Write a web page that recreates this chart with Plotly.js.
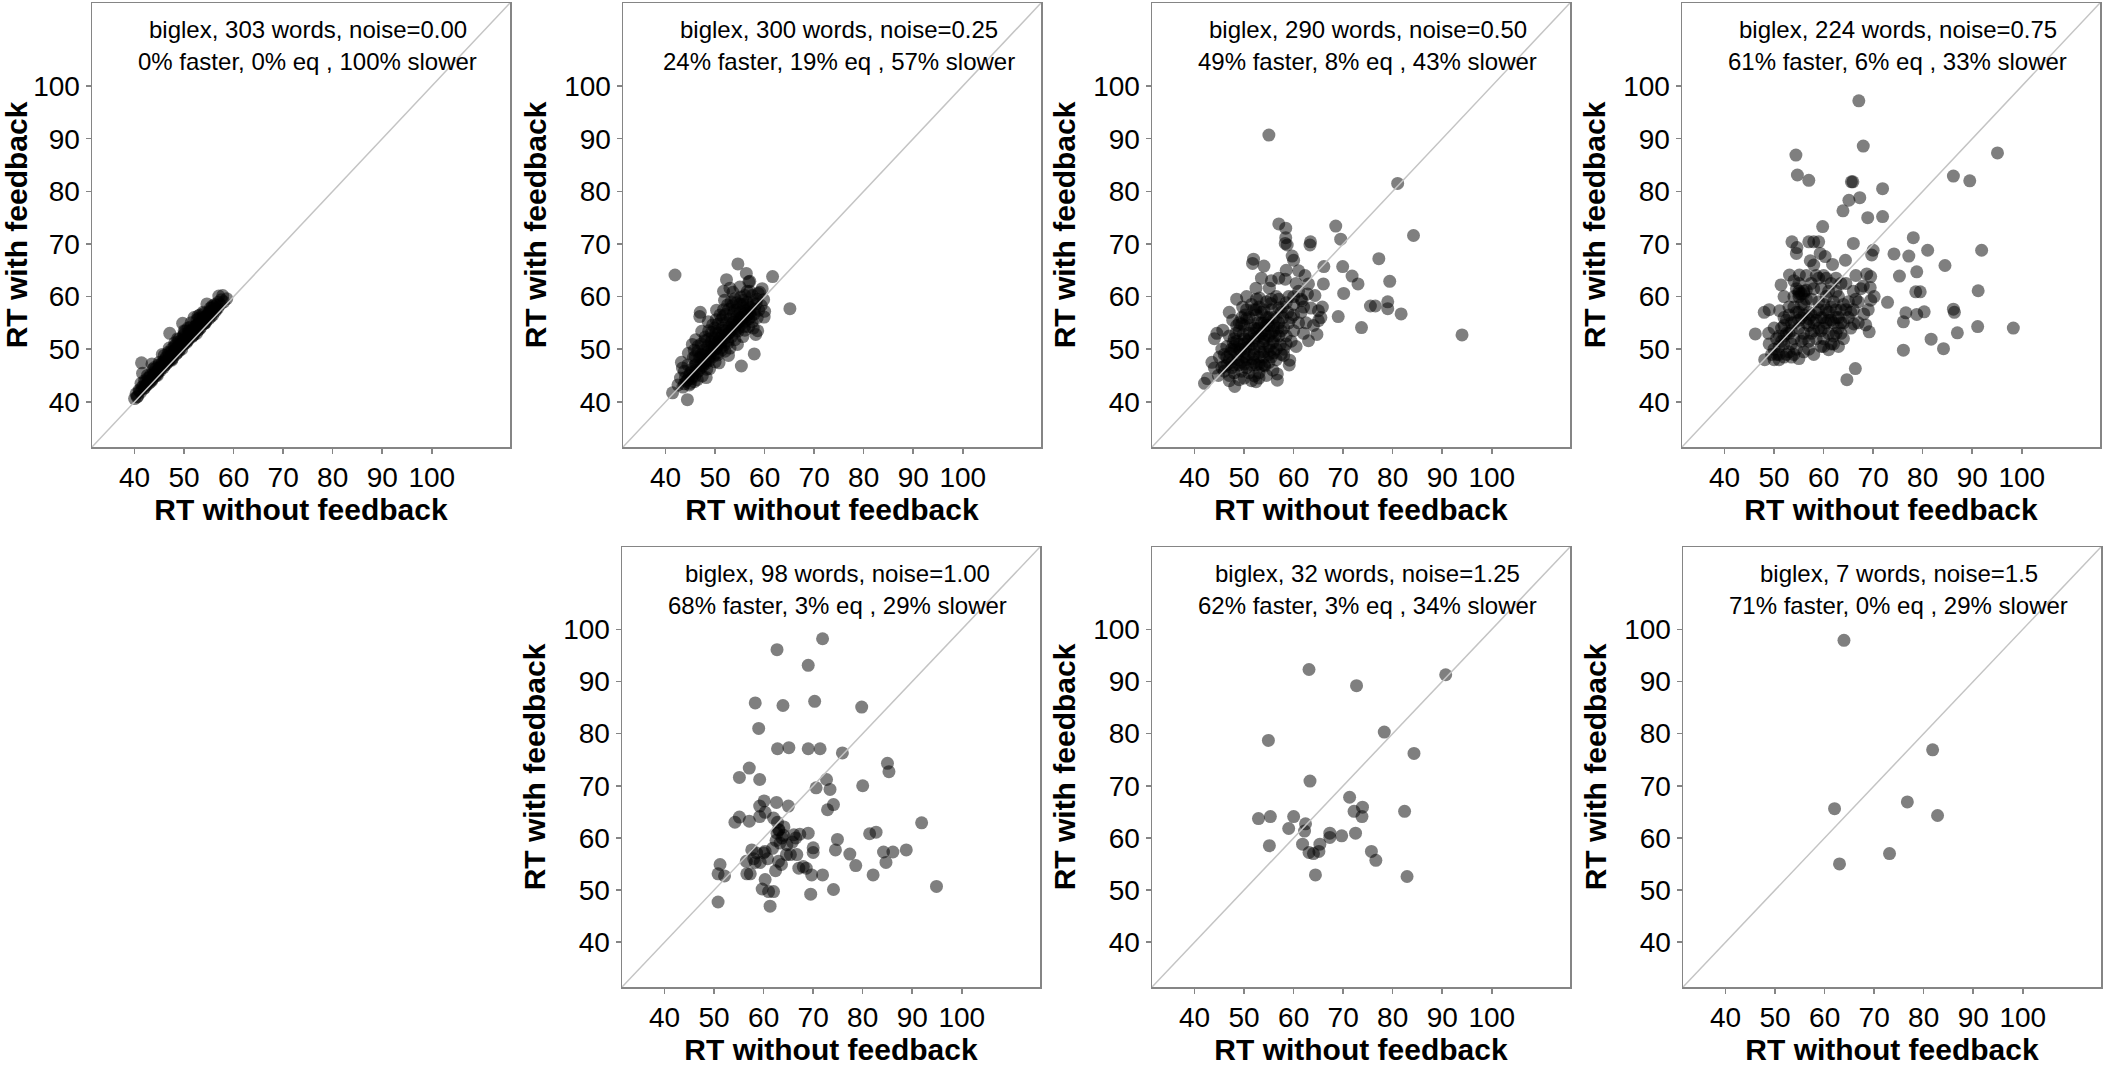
<!DOCTYPE html>
<html>
<head>
<meta charset="utf-8">
<script src="https://cdn.plot.ly/plotly-3.0.1.min.js"></script>
<style>
  html, body { margin: 0; padding: 0; background: #fff; }
  #chart { width: 2109px; height: 1076px; }
</style>
</head>
<body>
<div id="chart"></div>
<script>
// [RT without feedback, RT with feedback] per word
const noise000 = [
  [40.0,40.6],[40.3,41.5],[40.6,41.0],[40.9,42.2],[41.2,41.8],[41.4,47.4],[41.6,45.4],[41.8,43.0],[42.0,42.6],[42.2,43.8],
  [42.5,43.2],[42.7,44.5],[43.0,43.6],[43.2,45.0],[43.5,47.2],[43.6,44.3],[43.9,45.6],[44.1,44.8],[44.3,46.3],[44.5,45.2],
  [44.8,46.0],[45.0,47.5],[45.2,45.9],[45.4,46.8],[45.6,49.0],[45.8,46.5],[46.0,47.8],[46.2,47.0],[46.4,48.5],[46.6,47.4],
  [46.8,49.4],[47.0,48.0],[47.1,53.0],[47.3,48.6],[47.5,50.0],[47.7,48.3],[47.9,49.5],[48.1,51.2],[48.3,49.0],[48.5,50.3],
  [48.7,52.0],[48.9,49.6],[49.1,50.8],[49.3,51.6],[49.5,50.0],[49.7,54.9],[49.8,52.5],[50.0,51.0],[50.2,53.4],[50.4,51.5],
  [50.6,52.2],[50.8,54.0],[51.0,52.0],[51.2,53.0],[51.4,55.0],[51.6,52.4],[51.8,53.8],[52.0,56.0],[52.2,53.2],[52.4,54.5],
  [52.6,55.6],[52.8,53.6],[53.0,54.8],[53.2,56.5],[53.4,54.2],[53.6,55.4],[53.8,57.0],[54.0,54.9],[54.2,56.0],[54.4,55.3],
  [54.6,58.6],[54.8,56.6],[55.0,55.8],[55.2,57.2],[55.4,56.2],[55.6,57.8],[55.8,56.5],[56.0,58.0],[56.3,57.2],[56.6,58.4],
  [57.0,60.1],[57.3,58.5],[58.0,59.0],[58.6,59.6],[42.0,44.0],[44.0,46.5],[46.0,48.8],[48.0,50.5],[50.0,52.8],[52.0,54.2],
  [54.0,56.8],[45.0,46.4],[47.0,49.2],[49.0,51.9],[51.0,53.5],[53.0,55.9],[55.0,57.0],[43.0,44.6],[50.5,51.3],[52.5,53.0],
  [47.5,47.9],[44.6,45.0],
  [41.0,42.0],[41.5,42.8],[42.3,43.1],[42.8,43.9],[43.3,44.1],[43.8,44.9],[44.2,45.5],[44.7,45.6],[45.1,46.1],[45.5,47.2],
  [46.0,46.9],[46.4,47.6],[46.9,48.3],[47.3,48.0],[47.8,49.0],[48.2,49.8],[48.6,49.3],[49.0,50.4],[49.4,51.0],[49.9,50.9],
  [50.3,52.0],[50.7,51.6],[51.1,52.8],[51.5,53.4],[51.9,52.7],[52.3,54.0],[52.7,54.6],[53.1,53.8],[53.5,55.2],[53.9,55.6],
  [54.3,55.0],[54.7,56.2],[55.1,56.5],[55.5,56.8],[55.9,57.4],[56.2,58.5],[56.8,57.8],[57.5,59.4],[41.3,43.5],[42.6,45.0],
  [43.7,46.2],[44.9,47.0],[46.3,48.2],[47.6,49.6],[48.8,51.3],[50.1,52.3],[51.3,54.2],[52.6,54.0],[53.9,56.1],[55.3,57.8],
  [56.4,57.6],[45.7,47.5],[48.4,50.9],[50.9,53.1],[53.3,55.7],[55.7,58.2],[47.0,50.2],[50.0,53.5],[52.8,56.3],[44.0,45.2],
  [46.8,47.7],[49.2,50.1],[51.8,52.6],[54.1,54.9],[56.9,58.9],[57.8,60.2],[40.5,40.9],[41.9,42.6],[43.4,43.9]
];

const noise025 = [
  [41.9,64.1],[54.6,66.2],[56.3,64.4],[57.0,62.9],[61.6,63.8],[52.3,63.2],[51.7,61.0],[47.0,57.0],[59.8,59.4],[58.7,60.6],
  [65.1,57.7],[57.9,49.1],[55.3,46.8],[44.4,40.4],[41.4,41.7],[48.2,44.6],[43.4,46.4],[45.4,50.9],[46.9,56.2],[59.9,56.1],
  [58.6,53.5],[56.8,62.8],[56.5,61.0],[53.0,61.6],
  [42.5,43.2],[43.0,44.5],[43.5,42.8],[43.8,45.8],[44.2,43.9],[44.5,47.0],[44.8,45.0],[45.0,43.5],[45.3,46.2],[45.6,48.4],
  [45.9,44.8],[46.2,47.3],[46.5,49.6],[46.7,45.9],[47.0,48.5],[47.2,51.0],[47.5,46.8],[47.7,49.8],[48.0,52.3],[48.2,47.9],
  [48.5,50.6],[48.7,53.5],[49.0,48.7],[49.2,51.4],[49.5,54.6],[49.7,49.8],[50.0,52.2],[50.2,55.6],[50.4,50.4],[50.7,53.1],
  [51.0,56.5],[51.2,51.3],[51.5,54.0],[51.7,57.5],[52.0,52.1],[52.2,55.0],[52.5,58.4],[52.7,53.0],[53.0,55.8],[53.2,59.0],
  [53.5,53.7],[53.7,56.8],[54.0,59.6],[54.2,54.5],[54.5,57.5],[54.8,55.2],[55.0,58.6],[55.3,56.0],[55.6,59.3],[55.9,54.3],
  [56.2,57.3],[56.5,58.9],[56.8,55.8],[57.2,57.9],[57.5,60.2],[57.9,56.7],[58.3,58.6],[58.8,57.4],[59.3,58.3],[60.0,57.2],
  [46.0,46.0],[47.8,47.4],[49.8,51.0],[51.8,53.6],[53.8,55.2],[50.5,48.9],[52.6,51.2],[54.6,53.4],[48.3,46.2],[46.4,44.2],
  [55.5,55.6],[44.0,44.6],[45.2,44.4],[49.4,50.0],[50.9,52.0],[53.4,54.6],[56.0,56.8],[51.3,49.8],[47.4,44.9],[50.0,47.6],
  [52.0,49.6],[54.0,51.8],[56.0,53.6],[48.6,55.2],[50.3,57.4],[51.9,59.3],[53.6,60.8],[55.0,61.8],[43.2,47.5],[44.6,49.2],
  [46.1,51.8],[47.3,53.4],[57.7,54.0],[58.2,52.8],[53.0,50.2],
  [44.5,44.2],[45.0,45.5],[45.5,44.9],[46.0,47.0],[46.3,45.6],[46.8,48.2],[47.1,46.5],[47.6,48.8],[48.0,47.2],[48.4,49.4],
  [48.8,47.8],[49.1,50.3],[49.6,48.6],[50.0,50.8],[50.3,49.2],[50.7,51.5],[51.1,50.2],[51.4,52.6],[51.8,50.8],[52.2,53.4],
  [52.5,51.6],[52.9,54.2],[53.3,52.4],[53.6,55.0],[54.0,53.2],[54.4,56.2],[54.7,54.0],[55.1,57.0],[55.4,54.8],[55.8,57.8],
  [56.1,55.3],[56.5,56.5],[56.9,58.0],[57.3,56.2],[57.6,58.8],[58.0,57.6],[58.4,59.5],[45.8,49.8],[46.6,50.6],[47.9,51.6],
  [48.6,51.9],[49.3,53.2],[49.9,54.0],[50.6,54.8],[51.3,55.6],[52.1,56.6],[52.8,57.6],[53.5,58.3],[54.3,58.8],[55.2,59.9],
  [56.0,60.2],[57.0,61.0],[48.9,46.3],[50.8,47.4],[52.7,48.8],[54.5,50.9],[55.6,52.4],[56.8,54.3],[57.5,55.2],[58.5,56.0],
  [59.0,60.8],[59.5,61.5],[43.8,43.4],[44.8,43.2],[45.8,43.8],[47.0,47.0],[48.0,48.6],[49.0,49.2],[50.0,49.9],[51.0,51.0],
  [52.0,52.6],[53.0,53.3],[54.0,54.2],[55.0,55.9],[56.0,56.0],[57.0,56.9],[51.6,56.2],[53.9,57.3],[50.2,53.3],[47.2,49.0],
  [55.7,58.5],[49.4,52.2],[46.0,48.6],[48.5,48.0]
];

const noise050 = [
  [55.0,90.7],[81.0,81.5],[57.0,73.8],[58.4,73.0],[58.4,71.2],[58.7,69.8],[59.7,67.7],[68.5,73.4],[69.5,70.9],[63.4,70.4],
  [84.2,71.6],[77.2,67.2],[66.1,65.7],[69.9,65.7],[71.8,63.9],[73.0,62.4],[79.4,62.9],[70.1,60.6],[75.5,58.2],[76.5,58.2],
  [79.0,59.0],[79.0,57.7],[81.7,56.7],[69.0,56.2],[73.7,54.1],[94.0,52.7],[51.9,67.1],[54.0,65.8],[44.5,53.0],[42.6,44.4],
  [48.1,42.9],[52.1,44.9],[56.7,45.3],[54.2,46.8],[59.2,47.9],
  [51.7,66.3],[60.0,66.9],[58.3,70.1],[63.3,69.8],[52.4,61.6],[55.1,61.6],[53.1,59.7],[55.4,58.7],[52.4,57.5],[58.3,63.3],
  [61.0,64.9],[62.3,64.0],[63.0,62.4],[66.0,62.4],[64.3,60.2],[61.7,59.2],[65.0,57.3],[65.0,55.4],[64.7,52.8],[63.0,51.6],
  [44.0,52.0],[45.7,53.6],[47.7,55.5],[49.7,58.0],[42.0,43.5],[44.0,46.4],[46.0,45.8],[52.4,43.8],[56.7,44.1],[59.1,47.0],
  [55.8,46.0],[54.1,47.0],
  [62.5,55.0],[63.5,57.8],[61.0,61.0],[62.8,60.5],[65.8,58.0],[65.5,56.0],[64.0,54.5],[62.0,53.0],[60.5,50.5],[57.5,49.0],
  [58.5,51.0],[60.0,53.5],[61.5,57.0],[59.5,56.0],[57.8,58.0],[56.5,60.0],[60.5,62.5],[58.5,65.0],[57.0,63.5],[55.5,63.0],
  [53.5,63.5],[50.5,60.0],[48.5,59.5],[47.0,57.0],[46.5,50.5],[45.0,48.5],[43.5,47.5],[45.5,46.5],[47.0,44.0],[50.0,44.5],
  [53.0,45.5],
  [47.0,48.0],[47.5,50.0],[48.0,52.0],[48.0,47.0],[48.5,49.0],[49.0,51.0],[49.0,53.5],[49.5,47.5],[50.0,49.5],[50.0,52.0],
  [50.0,54.5],[50.5,48.0],[51.0,50.5],[51.0,53.0],[51.0,56.0],[51.5,47.0],[52.0,49.0],[52.0,51.5],[52.0,54.0],[52.5,56.5],
  [53.0,48.5],[53.0,50.5],[53.0,52.5],[53.5,55.0],[54.0,49.5],[54.0,51.5],[54.0,53.5],[54.5,56.0],[55.0,50.5],[55.0,52.5],
  [55.0,54.5],[55.5,48.5],[56.0,51.5],[56.0,53.5],[56.0,56.0],[56.5,50.0],[57.0,52.5],[57.0,55.0],[57.5,57.0],[58.0,54.0],
  [46.5,47.0],[46.0,49.0],[47.0,52.5],[48.5,54.5],[49.5,56.0],[50.5,57.5],[48.0,45.5],[49.5,45.8],[51.0,45.5],[50.5,46.5],
  [52.5,47.0],[53.5,46.8],[55.0,47.5],[56.5,48.0],[58.0,50.0],[58.5,52.5],[59.0,55.0],[53.0,58.0],[54.5,59.0],[51.5,58.5],
  [49.0,50.0],[50.0,51.0],[51.0,52.0],[52.0,53.0],[53.0,54.0],[54.0,55.0],[55.0,56.0],[50.0,48.5],[52.0,50.0],[54.0,52.0],
  [56.0,54.5],[48.0,50.5],[47.5,46.5],[53.5,57.0],[52.5,59.5],[55.5,57.5],[57.0,59.5],[59.0,60.0],[60.0,58.5],[61.0,55.0],
  [62.0,58.0],
  [46.5,48.5],[47.2,49.2],[47.8,51.2],[48.3,53.0],[48.8,48.0],[49.3,49.8],[49.8,52.8],[50.3,50.2],[50.8,51.6],[51.3,54.5],
  [51.8,48.2],[52.3,52.2],[52.8,55.0],[53.3,49.5],[53.8,51.0],[54.3,52.8],[54.8,55.2],[55.3,49.8],[55.8,51.2],[56.3,52.5],
  [56.8,54.0],[57.3,50.8],[57.8,56.0],[48.0,49.8],[49.0,47.0],[50.0,47.2],[51.0,49.0],[52.0,47.5],[53.0,47.2],[54.0,48.5],
  [55.0,49.0],[56.0,49.3],[49.5,54.8],[50.5,55.8],[51.5,51.0],[52.5,53.8],[53.5,53.0],[54.5,54.5],[55.5,53.0],[56.5,55.8],
  [47.5,47.5],[48.5,51.5],[49.0,55.0],[50.2,56.5],[52.0,57.5],[54.0,57.5],[55.5,59.5],[57.0,57.8],[58.5,58.8],[60.0,60.0],
  [46.0,46.8],[45.5,50.0],[44.8,45.0],[47.0,45.0],[49.0,44.2],[51.5,44.0],[53.0,44.5],[54.5,45.0],[58.0,48.8],[59.5,51.5],
  [60.0,56.5],[57.5,53.5],[58.8,57.0],[61.5,59.5]
];

const noise075 = [
  [67.1,97.2],[68.0,88.6],[54.4,86.9],[54.7,83.1],[57.0,82.1],[65.6,81.8],[65.9,81.8],[65.1,78.3],[67.3,78.8],[63.9,76.3],
  [71.9,80.5],[68.9,75.0],[71.9,75.2],[86.2,82.9],[89.5,82.0],[95.1,87.3],[59.8,73.3],[53.6,70.4],[54.6,69.3],[54.5,68.2],
  [57.0,70.4],[58.0,70.4],[59.0,70.4],[59.3,68.2],[57.3,66.8],[60.3,67.6],[61.8,66.1],[64.4,66.9],[66.0,70.1],[70.0,68.8],
  [69.7,67.9],[78.1,71.2],[74.2,68.1],[77.2,67.7],[81.0,68.8],[91.9,68.8],[84.5,65.9],[75.3,63.9],[78.8,64.7],[78.6,60.9],
  [79.5,60.9],[91.2,61.1],[72.9,58.9],[76.6,56.9],[78.8,56.6],[80.3,57.1],[76.1,55.2],[86.2,57.6],[86.4,57.0],[91.1,54.3],
  [98.3,54.0],[87.0,53.1],[81.7,51.9],[84.2,50.1],[76.1,49.8],[66.4,46.3],[64.7,44.2],[46.2,52.9],[48.0,57.0],[48.9,53.0],
  [48.1,48.0],[50.0,48.0],[51.1,57.3],[51.4,62.2],[53.1,64.1],[55.1,64.1],[55.0,60.6],[56.0,60.6],[68.5,54.6],[69.2,53.3],
  [68.1,56.7],[66.1,54.8],[61.0,49.9],[69.5,59.3],[70.2,60.0],[69.4,61.7],[69.5,63.8],[68.7,64.3],
  [50.0,50.0],[50.5,52.0],[51.0,49.0],[51.5,54.0],[52.0,51.0],[52.0,56.0],[52.5,53.0],[53.0,49.5],[53.0,58.0],[53.5,55.0],
  [54.0,52.0],[54.0,60.0],[54.5,50.0],[54.5,57.0],[55.0,54.0],[55.0,61.0],[55.5,51.5],[55.5,56.0],[56.0,58.5],[56.0,53.0],
  [56.5,55.0],[57.0,50.0],[57.0,57.0],[57.5,53.0],[57.5,59.5],[58.0,55.0],[58.0,61.5],[58.5,52.0],[58.5,57.0],[59.0,54.0],
  [59.0,63.5],[59.5,56.0],[60.0,58.5],[60.0,52.0],[60.5,55.0],[60.5,63.5],[61.0,57.0],[61.0,53.0],[61.5,55.5],[62.0,59.0],
  [62.0,51.0],[62.5,56.0],[63.0,54.0],[63.0,60.0],[63.5,57.5],[64.0,52.0],[64.5,62.5],[65.0,59.0],[65.5,57.0],[66.0,61.0],
  [66.5,64.0],[67.0,59.0],[67.5,61.5],[56.0,61.0],[55.0,62.5],[54.0,63.0],[53.5,51.0],[52.5,49.0],[51.0,50.5],[49.0,51.0],
  [57.0,51.5],[58.0,49.0],[59.5,50.5],[61.5,51.0],[63.0,50.5],[62.5,53.0],[60.0,54.0],[59.0,59.0],[57.0,54.5],[56.0,56.5],
  [55.0,57.0],[54.0,55.0],[53.0,53.0],[52.0,54.5],[51.0,52.5],[50.0,54.0],[49.5,49.0],[49.0,57.5],[52.0,60.0],[56.5,64.0],
  [58.0,66.0],[60.0,64.0],[61.0,61.0],[64.0,55.0],[65.5,54.0],[63.5,62.5],[62.5,63.5],[68.0,62.0],[69.0,57.5],
  [52.0,52.5],[53.0,56.5],[54.0,58.0],[55.0,55.5],[55.5,58.5],[56.0,52.0],[56.5,59.5],[57.0,55.8],[57.5,56.5],[58.0,53.5],
  [58.5,55.5],[59.0,57.5],[59.5,53.5],[60.0,56.0],[60.5,57.5],[61.0,55.5],[61.5,58.0],[62.0,55.0],[62.5,57.5],[63.0,56.0],
  [63.5,55.0],[64.0,58.5],[64.5,57.5],[65.0,56.0],[55.0,60.0],[54.5,61.5],[55.5,60.5],[56.5,61.2],[57.5,62.5],[58.5,64.0],
  [53.5,53.5],[52.5,55.5],[51.5,51.5],[50.5,49.0],[51.0,48.0],[52.0,48.5],[53.5,48.5],[54.0,49.0],[55.0,48.2],[56.0,49.5],
  [60.0,50.5],[62.0,52.5],[63.5,53.0],[66.0,57.5],[67.0,55.0],[66.5,59.5],[59.5,61.5],[60.5,60.0],[61.5,62.5],[62.5,61.0]
];

const noise100 = [
  [62.7,96.1],[71.9,98.2],[69.0,93.1],[58.3,85.9],[63.9,85.4],[70.3,86.2],[79.8,85.1],[59.0,81.0],[62.8,77.1],[65.1,77.3],
  [69.0,77.1],[71.4,77.1],[75.9,76.3],[85.0,74.3],[85.3,72.7],[57.1,73.4],[55.1,71.6],[59.2,71.2],[72.7,71.2],[70.6,69.6],
  [73.4,69.3],[80.0,70.0],[60.1,67.1],[62.6,66.8],[65.0,66.1],[74.1,66.4],[72.9,65.4],[59.2,66.1],[59.2,64.1],[60.3,64.9],
  [55.1,64.0],[54.2,63.0],[57.1,63.2],[62.0,63.8],[62.8,63.0],[64.1,62.1],[63.1,61.6],[62.7,60.9],[63.7,60.0],[63.3,59.0],
  [64.7,58.7],[91.9,62.9],[81.4,60.8],[82.7,61.1],[66.1,60.6],[67.3,60.7],[69.0,60.9],[74.9,59.7],[70.0,58.1],[70.0,57.2],
  [74.5,57.7],[77.4,56.9],[88.8,57.7],[86.1,57.3],[84.2,57.3],[84.7,55.3],[78.6,54.7],[82.1,52.9],[71.9,52.9],[69.7,52.9],
  [68.6,54.2],[67.1,54.2],[74.1,50.1],[69.5,49.2],[94.9,50.7],[50.8,47.7],[61.3,46.9],[61.0,49.7],[62.0,49.7],[59.7,50.2],
  [60.3,52.0],[51.2,54.9],[50.8,53.1],[52.1,52.7],[56.6,53.1],[57.3,53.1],[57.6,57.7],[58.6,57.1],[60.0,57.1],[60.3,57.4],
  [58.3,55.3],[59.3,55.3],[62.4,53.7],[63.6,54.9],[64.6,56.8],[65.4,56.8],[66.7,56.8],[63.0,61.5],[62.5,59.5],[64.0,60.5],
  [61.8,58.0],[66.5,60.0],[65.8,59.2],[68.0,54.5],[56.5,55.5],[60.8,56.0],[63.0,55.5],[58.0,56.0]
];

const noise125 = [
  [63.1,92.3],[72.7,89.2],[90.7,91.3],[78.3,80.3],[54.9,78.7],[84.3,76.2],[63.3,70.9],[71.3,67.8],[73.9,65.9],[73.8,64.1],
  [72.2,65.1],[82.4,65.1],[52.9,63.7],[55.3,64.1],[60.0,64.1],[62.4,62.7],[62.2,61.3],[59.0,61.8],[72.5,60.9],[69.7,60.4],
  [67.3,60.9],[67.3,60.1],[55.1,58.5],[61.8,58.8],[65.3,58.8],[63.1,57.2],[64.0,57.0],[65.1,57.4],[75.7,57.4],[76.6,55.7],
  [64.4,52.9],[82.9,52.6]
];

const noise150 = [
  [63.9,97.9],[81.8,76.9],[76.7,66.9],[62.0,65.6],[82.8,64.3],[73.1,57.0],[63.0,55.0]
];

const seriesList = [noise000, noise025, noise050, noise075, noise100, noise125, noise150];

const wordCounts = ['303', '300', '290', '224', '98', '32', '7'];
const noiseLabels = ['0.00', '0.25', '0.50', '0.75', '1.00', '1.25', '1.5'];
const fasterPct = ['0%', '24%', '49%', '61%', '68%', '62%', '71%'];
const eqPct = ['0%', '19%', '8%', '6%', '3%', '3%', '0%'];
const slowerPct = ['100%', '57%', '43%', '33%', '29%', '34%', '29%'];

const tickVals = [40, 50, 60, 70, 80, 90, 100];
const axisRange = [31.4, 115.8];

// pixel boxes of the seven panels (left, top, bottom); bottom-left slot stays empty
const W = 2109, H = 1076, PW = 418;
const boxes = [
    { left: 92,   top: 3,   bottom: 447 },
    { left: 623,  top: 3,   bottom: 447 },
    { left: 1152, top: 3,   bottom: 447 },
    { left: 1682, top: 3,   bottom: 447 },
    { left: 622,  top: 547, bottom: 987 },
    { left: 1152, top: 547, bottom: 987 },
    { left: 1683, top: 547, bottom: 987 }
];

const FONT = '"Liberation Sans", Arial, Helvetica, sans-serif';
const GREY = '#858585';

const traces = [];
const shapes = [];
const annotations = [];
const layout = {
    width: W,
    height: H,
    margin: { l: 0, r: 0, t: 0, b: 0 },
    paper_bgcolor: '#fff',
    plot_bgcolor: '#fff',
    showlegend: false,
    font: { family: FONT, color: '#000' }
};

seriesList.forEach((pts, i) => {
    const n = i + 1;
    const xa = 'xaxis' + (n === 1 ? '' : n);
    const ya = 'yaxis' + (n === 1 ? '' : n);
    const xr = 'x' + (n === 1 ? '' : n);
    const yr = 'y' + (n === 1 ? '' : n);
    const b = boxes[i];

    traces.push({
        x: pts.map(p => p[0]),
        y: pts.map(p => p[1]),
        xaxis: xr,
        yaxis: yr,
        type: 'scatter',
        mode: 'markers',
        marker: { size: 13, color: 'rgba(0,0,0,0.5)', line: { width: 0 } },
        hoverinfo: 'x+y'
    });

    const common = {
        range: axisRange,
        tickvals: tickVals,
        ticks: 'outside',
        ticklen: 5,
        tickwidth: 1.5,
        tickcolor: GREY,
        showline: true,
        linecolor: GREY,
        linewidth: 1.5,
        mirror: true,
        showgrid: false,
        zeroline: false,
        tickfont: { family: FONT, size: 28, color: '#000' },
        fixedrange: true
    };

    layout[xa] = Object.assign({}, common, {
        domain: [b.left / W, (b.left + PW) / W],
        anchor: yr,
        title: {
            text: '<b>RT without feedback</b>',
            font: { family: FONT, size: 30, color: '#000' },
            standoff: 4
        }
    });
    layout[ya] = Object.assign({}, common, {
        domain: [1 - b.bottom / H, 1 - b.top / H],
        anchor: xr,
        title: {
            text: '<b>RT with feedback</b>',
            font: { family: FONT, size: 30, color: '#000' },
            standoff: 8
        }
    });

    shapes.push({
        type: 'line',
        xref: xr, yref: yr,
        x0: axisRange[0], y0: axisRange[0],
        x1: axisRange[1], y1: axisRange[1],
        line: { color: '#c4c4c4', width: 1.5 },
        layer: 'above'
    });

    annotations.push({
        xref: xr, yref: yr,
        x: 75, y: 110.7,
        text: 'biglex, ' + wordCounts[i] + ' words, noise=' + noiseLabels[i],
        showarrow: false,
        font: { family: FONT, size: 24, color: '#000' },
        xanchor: 'center', yanchor: 'middle'
    });
    annotations.push({
        xref: xr, yref: yr,
        x: 75, y: 104.6,
        text: fasterPct[i] + ' faster, ' + eqPct[i] + ' eq , ' + slowerPct[i] + ' slower',
        showarrow: false,
        font: { family: FONT, size: 24, color: '#000' },
        xanchor: 'center', yanchor: 'middle'
    });
});

layout.shapes = shapes;
layout.annotations = annotations;

Plotly.newPlot('chart', traces, layout, { displayModeBar: false, staticPlot: true });
</script>
</body>
</html>
